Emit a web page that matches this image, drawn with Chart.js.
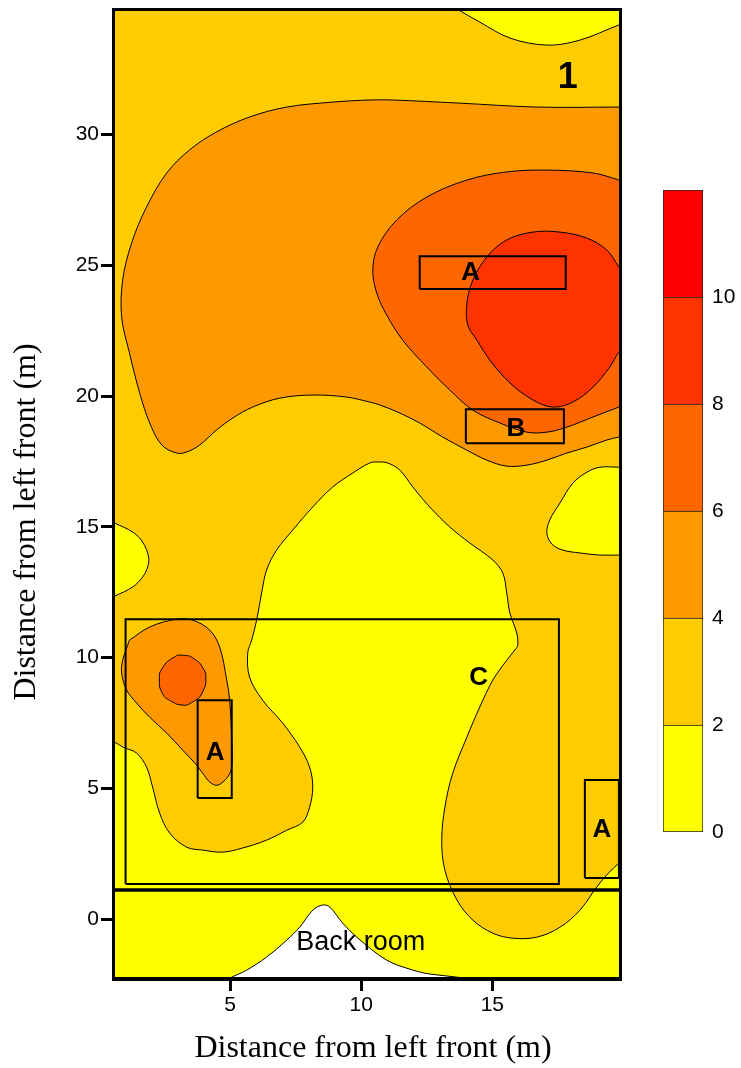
<!DOCTYPE html>
<html>
<head>
<meta charset="utf-8">
<script src="https://cdn.jsdelivr.net/npm/chart.js@4.4.1/dist/chart.umd.min.js"></script>
<style>
  html, body { margin: 0; padding: 0; background: #ffffff; }
  #wrap { position: relative; width: 741px; height: 1068px; }
  #main { position: absolute; left: 0; top: 0; }
  #bar { position: absolute; left: 640px; top: 170px; }
</style>
</head>
<body>
<div id="wrap">
  <canvas id="main" width="741" height="1068"></canvas>
  <canvas id="bar" width="101" height="680"></canvas>
</div>
<script>
// ---- contour levels and colours ----
const levelEdges = [0, 2, 4, 6, 8, 10, 12];
const levelColors = ['#FFFF00', '#FFCC00', '#FF9900', '#FF6600', '#FF3300', '#FF0000'];
const colorbarTicks = [0, 2, 4, 6, 8, 10];

// ---- axes ----
const xRange = [0.53, 19.87];
const yRange = [-2.29, 34.8];
const xTicks = [5, 10, 15];
const yTicks = [0, 5, 10, 15, 20, 25, 30];

// ---- contour outlines (m, m); open outlines run outside the room and are clipped ----
const floor2to4 = [[-3, -6], [23, -6], [23, 38], [-3, 38]];

const under2North = [[12.8, 36.5], [12.8, 35.3], [13.65, 34.80], [14.52, 34.30], [15.67, 33.69],
  [17.08, 33.42], [18.34, 33.61], [19.83, 34.19], [21, 34.6], [21, 36.5]];

const under2West = [[-1, 16.0], [-0.2, 15.5], [0.59, 15.14], [1.28, 14.80], [1.66, 14.42],
  [1.89, 13.84], [1.85, 13.46], [1.66, 13.08], [1.28, 12.70], [0.59, 12.35], [-0.2, 12.0], [-1, 11.6]];

const under2East = [[21, 17.28], [19.83, 17.28], [19.10, 17.28], [18.61, 17.09], [18.07, 16.67],
  [17.58, 15.91], [17.19, 15.26], [17.08, 14.76], [17.27, 14.34], [17.69, 14.11], [18.34, 14.00],
  [19.10, 13.92], [19.83, 13.92], [21, 13.92]];

const under2Main = [[-0.5, 7.2], [0.59, 6.77], [0.90, 6.58], [1.43, 6.35], [1.81, 5.81], [2.04, 5.05],
  [2.31, 4.05], [2.69, 3.29], [3.34, 2.75], [3.95, 2.64], [4.71, 2.56], [5.48, 2.72], [6.39, 3.02],
  [7.16, 3.40], [7.77, 3.71], [8.03, 4.28], [8.15, 5.05], [8.03, 5.81], [7.65, 6.58], [7.00, 7.50],
  [6.24, 8.37], [5.74, 9.25], [5.67, 10.17], [5.82, 10.67], [6.01, 11.43], [6.20, 12.47], [6.39, 13.35],
  [6.77, 14.11], [7.39, 14.88], [8.15, 15.76], [8.91, 16.52], [9.68, 17.06], [10.32, 17.44],
  [10.63, 17.48], [11.01, 17.44], [11.47, 17.17], [11.97, 16.52], [12.61, 15.76], [13.38, 14.99],
  [14.14, 14.38], [15.02, 13.73], [15.40, 13.23], [15.55, 12.47], [15.67, 11.70], [15.93, 10.94],
  [15.97, 10.48], [15.86, 10.29], [15.55, 9.90], [15.02, 9.14], [14.52, 8.11], [14.03, 6.96],
  [13.49, 5.58], [13.19, 4.28], [13.07, 3.02], [13.19, 1.87], [13.65, 0.73], [14.26, -0.04],
  [15.02, -0.54], [15.78, -0.73], [16.70, -0.69], [17.58, -0.31], [18.34, 0.34], [19.10, 1.38],
  [19.83, 2.14], [21, 3.0], [21, -5], [-1, -5], [-1, 7.3]];

const over4North = [[21, 31.05], [19.83, 31.05], [16.70, 31.05], [13.76, 31.20], [11.20, 31.32],
  [10.32, 31.32], [8.91, 31.24], [7.16, 31.05], [5.74, 30.67], [4.48, 30.10], [3.45, 29.41],
  [2.58, 28.53], [1.81, 27.23], [1.24, 25.85], [0.90, 24.44], [0.86, 23.02], [1.16, 21.64],
  [1.55, 20.11], [1.93, 18.97], [2.39, 18.13], [2.96, 17.82], [3.34, 17.86], [3.84, 18.13],
  [4.48, 18.70], [5.10, 19.16], [5.86, 19.58], [6.89, 19.92], [8.15, 20.04], [9.45, 19.96],
  [10.32, 19.77], [10.71, 19.66], [11.47, 19.35], [12.23, 18.97], [13.11, 18.43], [14.03, 17.93],
  [14.79, 17.55], [15.55, 17.32], [16.32, 17.36], [17.08, 17.55], [17.84, 17.82], [18.61, 18.05],
  [19.37, 18.32], [19.83, 18.43], [21, 18.6]];

const over4West = [[1.16, 10.67], [1.93, 11.17], [2.96, 11.47], [3.57, 11.43], [4.22, 11.05],
  [4.60, 10.40], [4.87, 9.14], [4.98, 8.37], [5.06, 6.85], [5.06, 5.81], [4.90, 5.43], [4.52, 5.12],
  [4.22, 5.24], [3.95, 5.58], [3.72, 5.89], [3.19, 6.46], [2.58, 7.11], [1.93, 7.72], [1.43, 8.26],
  [1.05, 8.76], [0.86, 9.41], [0.90, 9.90], [1.16, 10.67]];

const over6North = [[21, 27.9], [19.83, 28.26], [18.84, 28.53], [17.08, 28.64], [15.55, 28.57],
  [14.03, 28.26], [12.50, 27.61], [11.35, 26.73], [10.63, 25.70], [10.44, 24.82], [10.59, 23.94],
  [10.97, 23.10], [11.58, 22.14], [12.50, 21.11], [13.38, 20.23], [14.26, 19.46], [15.29, 18.97],
  [16.32, 18.62], [17.08, 18.62], [17.84, 18.81], [18.84, 19.20], [19.83, 19.58], [21, 20.0]];

const over6West = [[3.00, 10.10], [3.45, 10.06], [3.84, 9.79], [4.06, 9.41], [4.06, 8.95],
  [3.84, 8.49], [3.34, 8.18], [2.96, 8.22], [2.50, 8.49], [2.31, 8.87], [2.31, 9.41], [2.58, 9.83],
  [3.00, 10.10]];

const over8North = [[20.6, 23.9], [19.83, 24.93], [19.37, 25.58], [18.61, 26.04], [17.58, 26.27],
  [16.55, 26.27], [15.55, 25.97], [14.79, 25.32], [14.26, 24.44], [14.03, 23.56], [14.06, 22.72],
  [14.41, 22.14], [14.90, 21.38], [15.67, 20.50], [16.55, 19.85], [17.31, 19.58], [18.07, 19.77],
  [18.84, 20.34], [19.48, 21.11], [19.83, 21.68], [20.6, 22.6]];

// area with no measurements behind the back-room wall
const unmeasured = [[4.5, -3.2], [4.6, -2.5], [4.98, -2.26], [5.63, -1.95], [6.39, -1.45], [7.16, -0.80],
  [7.65, -0.31], [8.15, 0.34], [8.53, 0.54], [8.80, 0.46], [9.29, -0.15], [9.83, -0.69],
  [10.97, -1.57], [11.97, -1.95], [12.61, -2.10], [13.65, -2.22], [14.5, -2.4], [14.5, -3.2]];

// ---- marked zones ----
const zoneX0 = [12.23, 13.99, 1.01, 3.76, 18.53];
const zoneX1 = [17.80, 17.73, 17.54, 5.06, 19.83];
const zoneY0 = [24.09, 18.20, 1.34, 4.63, 1.57];
const zoneY1 = [25.35, 19.50, 11.47, 8.37, 5.32];
const backRoomWallY = 1.11;

// ---- annotations ----
const noteText = ['1', 'A', 'B', 'C', 'A', 'A', 'Back room'];
const noteX = [17.88, 14.17, 15.90, 14.48, 4.43, 19.18, 9.98];
const noteY = [32.15, 24.70, 18.76, 9.24, 6.37, 3.42, -0.90];

// ---- build datasets ----
const toXY = pts => pts.map(([x, y]) => ({ x, y }));

const regions = [
  { band: 1, pts: floor2to4, edge: false },
  { band: 0, pts: under2North, edge: true },
  { band: 0, pts: under2West, edge: true },
  { band: 0, pts: under2East, edge: true },
  { band: 0, pts: under2Main, edge: true },
  { band: 2, pts: over4North, edge: true },
  { band: 2, pts: over4West, edge: true },
  { band: 3, pts: over6North, edge: true },
  { band: 3, pts: over6West, edge: true, tension: 0.15 },
  { band: 4, pts: over8North, edge: true },
  { band: -1, pts: unmeasured, edge: true }
];

const datasets = [];
let drawOrder = 1000;
regions.forEach(r => {
  datasets.push({
    data: toXY(r.pts),
    showLine: true,
    fill: 'shape',
    backgroundColor: r.band < 0 ? '#FFFFFF' : levelColors[r.band],
    borderColor: r.edge ? '#000000' : 'rgba(0,0,0,0)',
    borderWidth: 1,
    pointRadius: 0,
    pointHoverRadius: 0,
    tension: r.tension !== undefined ? r.tension : 0.35,
    clip: 0,
    order: drawOrder--
  });
});

zoneX0.forEach((x0, i) => {
  const x1 = zoneX1[i], y0 = zoneY0[i], y1 = zoneY1[i];
  datasets.push({
    data: toXY([[x0, y0], [x1, y0], [x1, y1], [x0, y1], [x0, y0]]),
    showLine: true,
    fill: false,
    borderColor: '#000000',
    borderWidth: 2,
    pointRadius: 0,
    pointHoverRadius: 0,
    tension: 0,
    clip: 0,
    order: drawOrder--
  });
});

datasets.push({
  data: toXY([[-1, backRoomWallY], [21, backRoomWallY]]),
  showLine: true,
  fill: false,
  borderColor: '#000000',
  borderWidth: 3.5,
  pointRadius: 0,
  pointHoverRadius: 0,
  tension: 0,
  clip: 0,
  order: drawOrder--
});

// frame, annotations and axis titles
const decorations = {
  id: 'decorations',
  afterDatasetsDraw(chart) {
    const { ctx, chartArea: a, scales: { x, y } } = chart;
    ctx.save();
    ctx.fillStyle = '#000000';
    ctx.textAlign = 'center';
    ctx.textBaseline = 'middle';
    noteText.forEach((t, i) => {
      if (t === '1') ctx.font = 'bold 36px "Liberation Sans", Arial, sans-serif';
      else if (t.length === 1) ctx.font = 'bold 26px "Liberation Sans", Arial, sans-serif';
      else ctx.font = '27px "Liberation Sans", Arial, sans-serif';
      ctx.fillText(t, x.getPixelForValue(noteX[i]), y.getPixelForValue(noteY[i]));
    });
    ctx.lineWidth = 3;
    ctx.strokeStyle = '#000000';
    ctx.strokeRect(a.left + 0.5, a.top + 0.5, a.right - a.left, a.bottom - a.top - 1);
    ctx.restore();
  },
  afterDraw(chart) {
    const { ctx } = chart;
    ctx.save();
    ctx.fillStyle = '#000000';
    ctx.font = '32px "Liberation Serif", "Times New Roman", serif';
    ctx.textAlign = 'center';
    ctx.textBaseline = 'middle';
    ctx.fillText('Distance from left front (m)', 373, 1049);
    ctx.translate(27, 522);
    ctx.rotate(-Math.PI / 2);
    ctx.fillText('Distance from left front (m)', 0, 0);
    ctx.restore();
  }
};

const tickFont = { family: '"Liberation Sans", Arial, sans-serif', size: 21 };
const tickGrid = {
  display: true, drawOnChartArea: false, drawTicks: true,
  tickLength: 12, tickWidth: 3, tickColor: '#000000', lineWidth: 3, color: '#000000'
};

new Chart(document.getElementById('main'), {
  type: 'scatter',
  data: { datasets },
  options: {
    responsive: false,
    animation: false,
    events: [],
    layout: { padding: { top: 9, right: 121, left: 0, bottom: 0 } },
    plugins: { legend: { display: false }, tooltip: { enabled: false } },
    scales: {
      x: {
        type: 'linear', min: xRange[0], max: xRange[1],
        afterBuildTicks: s => { s.ticks = xTicks.map(v => ({ value: v })); },
        afterFit: s => { s.height = 89; s.paddingLeft = 0; s.paddingRight = 0; },
        grid: tickGrid,
        border: { display: true, width: 3, color: '#000000' },
        ticks: { padding: 2, color: '#000000', font: tickFont, maxRotation: 0, autoSkip: false, callback: v => String(v) }
      },
      y: {
        type: 'linear', min: yRange[0], max: yRange[1],
        afterBuildTicks: s => { s.ticks = yTicks.map(v => ({ value: v })); },
        afterFit: s => { s.width = 113; s.paddingTop = 0; s.paddingBottom = 0; },
        grid: tickGrid,
        border: { display: true, width: 3, color: '#000000' },
        ticks: { padding: 2, color: '#000000', font: tickFont, autoSkip: false, callback: v => String(v) }
      }
    }
  },
  plugins: [decorations]
});

// ---- colour scale ----
new Chart(document.getElementById('bar'), {
  type: 'bar',
  data: {
    labels: [''],
    datasets: levelColors.map((c, i) => ({
      data: [[levelEdges[i], levelEdges[i + 1]]],
      backgroundColor: c,
      borderColor: '#222222',
      borderWidth: 1,
      borderSkipped: i === 0 ? false : 'start',
      barPercentage: 1,
      categoryPercentage: 1,
      grouped: false
    }))
  },
  options: {
    responsive: false,
    animation: false,
    events: [],
    layout: { padding: { left: 23, top: 20, bottom: 18, right: 0 } },
    plugins: { legend: { display: false }, tooltip: { enabled: false } },
    scales: {
      x: { display: false },
      y: {
        position: 'right', min: levelEdges[0], max: levelEdges[levelEdges.length - 1],
        afterBuildTicks: s => { s.ticks = colorbarTicks.map(v => ({ value: v })); },
        afterFit: s => { s.width = 38; s.paddingTop = 0; s.paddingBottom = 0; },
        grid: { display: false, drawTicks: false },
        border: { display: false },
        ticks: { padding: 9, color: '#000000', font: tickFont, callback: v => String(v) }
      }
    }
  }
});
</script>
</body>
</html>
